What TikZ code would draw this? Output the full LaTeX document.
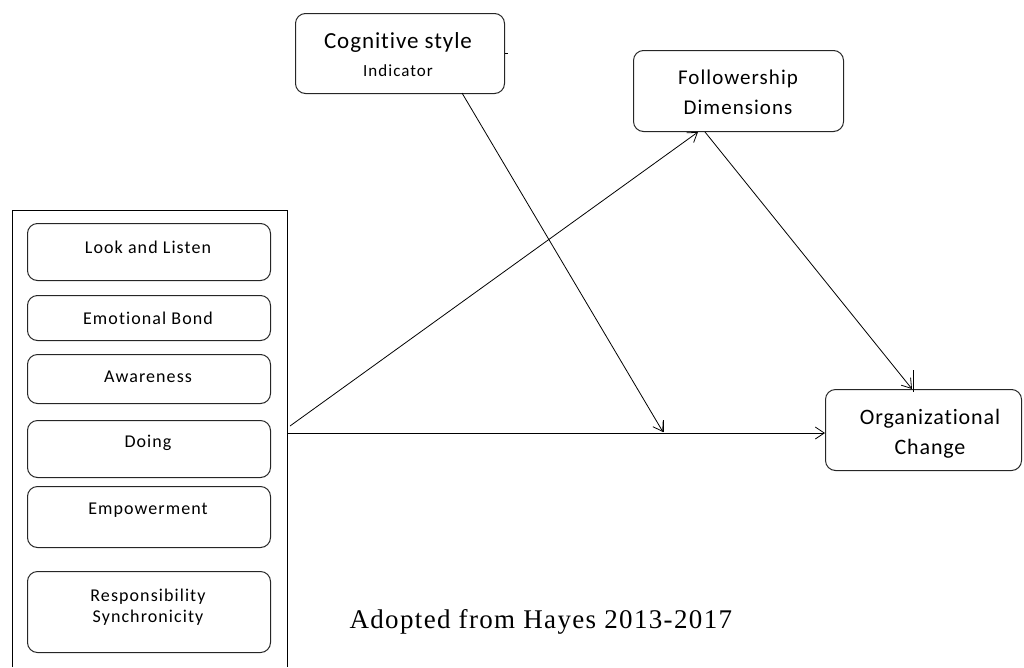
\documentclass[tikz,border=0pt]{standalone}
\usepackage{fontspec}
\setmainfont{Carlito}[Ligatures=NoCommon]
\newfontfamily\serifcap{Liberation Serif}
\usetikzlibrary{arrows.meta}
\begin{document}
\begin{tikzpicture}[x=1pt,y=-1pt,
  box/.style={draw=black!85,line width=1pt,rounded corners=10pt},
  inner/.style={box,minimum width=243pt,anchor=north west,inner sep=0pt},
  lbl/.style={font=\fontsize{18}{21}\selectfont\addfontfeatures{LetterSpace=6}},
  big/.style={font=\fontsize{23}{30}\selectfont\addfontfeatures{LetterSpace=4}},
  conn/.style={line width=0.8pt,-{Straight Barb[length=9pt,width=12pt]}},
  tick/.style={line width=0.9pt}]
\useasboundingbox (0,0) rectangle (1024,667);
% outer frame
\draw[line width=1pt] (12,667) -- (12,210) -- (287,210) -- (287,667);
\coordinate (src) at (287,433);
\coordinate (srcd) at (290,426);
% inner boxes
\node[inner,minimum height=57pt] (ll) at (27,223) {};
\node[lbl] at (148,247) {Look and Listen};
\node[inner,minimum height=45pt] (eb) at (27,295) {};
\node[lbl] at (148,318) {Emotional Bond};
\node[inner,minimum height=49pt] (aw) at (27,354) {};
\node[lbl] at (148,377) {Awareness};
\node[inner,minimum height=57pt] (do) at (27,420) {};
\node[lbl] at (148,443) {Doing};
\node[inner,minimum height=61pt] (em) at (27,486) {};
\node[lbl] at (148,510) {Empowerment};
\node[inner,minimum height=81pt] (rs) at (27,571) {};
\node[lbl,align=center] at (148,607) {Responsibility\\Synchronicity};
% top boxes
\node[box,minimum width=209pt,minimum height=80pt,anchor=north west,inner sep=0pt] (cog) at (295,13) {};
\node[big] at (398,42) {Cognitive style};
\node[lbl,font=\fontsize{17}{21}\selectfont\addfontfeatures{LetterSpace=6}] at (398,71) {Indicator};
\node[box,minimum width=210pt,minimum height=81pt,anchor=north west,inner sep=0pt] (fol) at (633,50) {};
\node[big,align=center,font=\fontsize{21}{30}\selectfont\addfontfeatures{LetterSpace=5}] at (738,92) {Followership\\Dimensions};
\node[box,minimum width=196pt,minimum height=81pt,anchor=north west,inner sep=0pt] (org) at (825,389) {};
\node[big,align=center,font=\fontsize{22}{30}\selectfont\addfontfeatures{LetterSpace=4}] at (930,434) {Organizational\\Change};
% connectors
\coordinate (folin) at (698,132);
\coordinate (folout) at (705,132);
\coordinate (cogout) at (462,93);
\coordinate (mod) at (663,432);
\coordinate (orgtop) at (912,389);
\coordinate (orgin) at (825,433);
\draw[conn] (srcd) -- (folin);
\draw[conn] (src) -- (orgin);
\draw[conn] (cogout) -- (mod);
\draw[conn] (folout) -- (orgtop);
% stray ticks
\draw[tick] (mod) -- ++(0,-12);
\draw[tick] (913,370) -- (913,392);
\draw[tick] (cog.east) -- ++(3,0);
% source note
\node[font=\serifcap\fontsize{27}{30}\selectfont\addfontfeatures{LetterSpace=5}, anchor=base west] (note) at (346,628) {Adopted from Hayes 2013-2017};
\end{tikzpicture}
\end{document}
